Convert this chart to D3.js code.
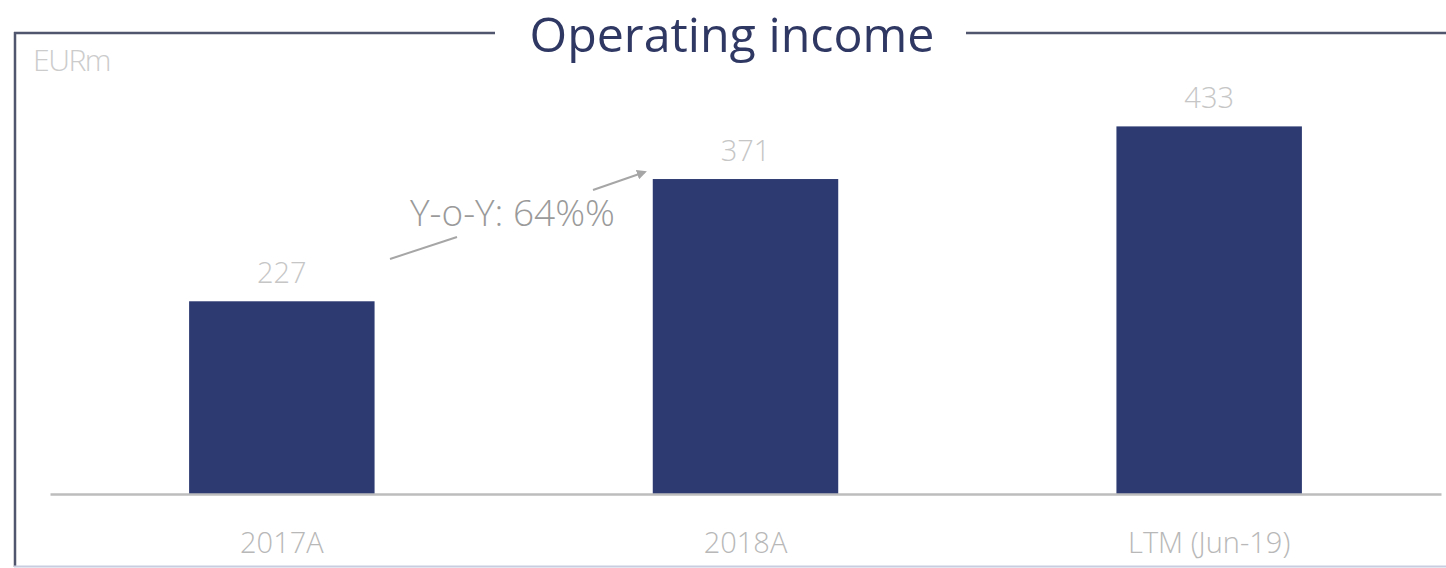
<!DOCTYPE html>
<html>
<head>
<meta charset="utf-8">
<script src="https://cdn.jsdelivr.net/npm/d3@7"></script>
<style>
  html, body { margin: 0; padding: 0; background: #ffffff; }
  svg { display: block; }
  text { font-family: "Open Sans", "Noto Sans", sans-serif; }
</style>
</head>
<body>
<svg id="chart" width="1446" height="568"></svg>
<script>
// Operating income, EURm
const categories = ["2017A", "2018A", "LTM (Jun-19)"];
const values = [227, 371, 433];
const unitLabel = "EURm";
const titleText = "Operating income";
const growthLabel = "Y-o-Y: 64%%";

const W = 1446, H = 568;
const svg = d3.select("#chart");

const plot = { left: 50, right: 1441, baseline: 494 };

const x = d3.scaleBand()
  .domain(categories)
  .range([plot.left, plot.right])
  .paddingInner(0.6)
  .paddingOuter(0.3);

const y = d3.scaleLinear()
  .domain([0, 433])
  .range([plot.baseline, plot.baseline - 367.6]);

// Shrink or grow a text's font so it spans the given width
function fitWidth(sel, size, width) {
  sel.style("font-size", size + "px");
  const w = sel.node().getComputedTextLength();
  sel.style("font-size", (size * width / w).toFixed(2) + "px");
}

// Frame: left rule, bottom rule, top rule split by the title
const frameColor = "#50566e";
svg.append("line").attr("x1", 15).attr("x2", 15).attr("y1", 32).attr("y2", 567)
  .attr("stroke", frameColor).attr("stroke-width", 2.5);
svg.append("line").attr("x1", 14).attr("x2", W).attr("y1", 566.5).attr("y2", 566.5)
  .attr("stroke", "#c9cde0").attr("stroke-width", 2);
svg.append("line").attr("x1", 14).attr("x2", 495).attr("y1", 33).attr("y2", 33)
  .attr("stroke", frameColor).attr("stroke-width", 2.5);
svg.append("line").attr("x1", 966).attr("x2", W).attr("y1", 33).attr("y2", 33)
  .attr("stroke", frameColor).attr("stroke-width", 2.5);

// Title
const title = svg.append("text")
  .attr("x", 732).attr("y", 52)
  .attr("text-anchor", "middle")
  .attr("fill", "#2f3763")
  .style("font-weight", 400)
  .text(titleText);
fitWidth(title, 42, 405);

// Unit label
const unit = svg.append("text")
  .attr("x", 33).attr("y", 71)
  .attr("fill", "#cccccc")
  .style("font-weight", 300)
  .style("letter-spacing", "-1.5px")
  .text(unitLabel);
fitWidth(unit, 20, 74);

// Bars
svg.selectAll("rect.bar")
  .data(values)
  .join("rect")
  .attr("class", "bar")
  .attr("x", (d, i) => x(categories[i]))
  .attr("width", x.bandwidth())
  .attr("y", d => y(d))
  .attr("height", d => y(0) - y(d))
  .attr("fill", "#2d3a72");

// Baseline axis
const axis = d3.axisBottom(x).tickSize(0);
const axisG = svg.append("g")
  .attr("transform", `translate(0,${plot.baseline})`)
  .call(axis);
axisG.select(".domain").attr("stroke", "#bdbdbd").attr("stroke-width", 2.5);
axisG.selectAll(".tick text")
  .attr("y", 59)
  .attr("dy", 0)
  .attr("fill", "#b8b8b8")
  .style("font-size", "29px")
  .style("font-weight", 300)
  .style("font-family", "\"Open Sans\", sans-serif");

// Value labels
svg.selectAll("text.value")
  .data(values)
  .join("text")
  .attr("class", "value")
  .attr("x", (d, i) => x(categories[i]) + x.bandwidth() / 2)
  .attr("y", d => y(d) - 18)
  .attr("text-anchor", "middle")
  .attr("fill", "#c6c6c6")
  .style("font-size", "29px")
  .style("font-weight", 300)
  .text(d => d);

// Growth annotation with arrow
const defs = svg.append("defs");
defs.append("marker")
  .attr("id", "arrowhead")
  .attr("viewBox", "0 0 10 10")
  .attr("refX", 8).attr("refY", 5)
  .attr("markerWidth", 10).attr("markerHeight", 10)
  .attr("markerUnits", "userSpaceOnUse")
  .attr("orient", "auto")
  .append("path")
  .attr("d", "M0,0 L10,5 L0,10 Z")
  .attr("fill", "#a6a6a6");

svg.append("line")
  .attr("x1", 390).attr("y1", 259).attr("x2", 457).attr("y2", 237)
  .attr("stroke", "#a6a6a6").attr("stroke-width", 2);
svg.append("line")
  .attr("x1", 593).attr("y1", 190).attr("x2", 645).attr("y2", 172)
  .attr("stroke", "#a6a6a6").attr("stroke-width", 2)
  .attr("marker-end", "url(#arrowhead)");

const growth = svg.append("text")
  .attr("x", 410).attr("y", 226)
  .attr("fill", "#9a9a9a")
  .style("font-weight", 300)
  .text(growthLabel);
fitWidth(growth, 34, 205);
</script>
</body>
</html>
